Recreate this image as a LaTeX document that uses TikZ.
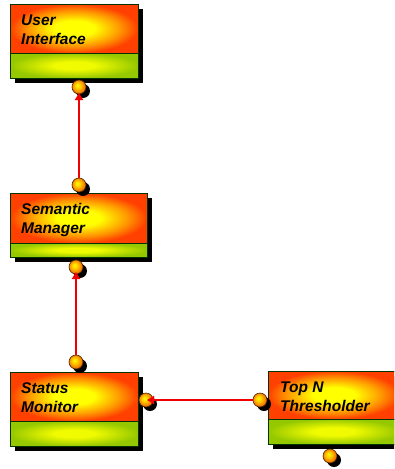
\documentclass[tikz,border=0pt]{standalone}
\usepackage{fontspec}
\setmainfont{Liberation Sans}
\usetikzlibrary{arrows.meta,calc}
\definecolor{hotorange}{RGB}{255,64,0}
\definecolor{midorange}{RGB}{255,150,0}
\definecolor{brightyellow}{RGB}{255,255,0}
\definecolor{limegreen}{RGB}{150,200,0}
\definecolor{limeyellow}{RGB}{240,250,0}
\definecolor{ballorange}{RGB}{240,110,0}
\definecolor{linkred}{RGB}{240,0,0}
\pgfdeclareradialshading{headglow}{\pgfpoint{0bp}{0bp}}{%
  color(0bp)=(brightyellow); color(8bp)=(brightyellow);
  color(18bp)=(midorange); color(25bp)=(hotorange); color(50bp)=(hotorange)}
\pgfdeclareradialshading{footglow}{\pgfpoint{0bp}{0bp}}{%
  color(0bp)=(limeyellow); color(8bp)=(limeyellow);
  color(25bp)=(limegreen); color(50bp)=(limegreen)}
\pgfdeclareradialshading{ballglow}{\pgfpoint{-6bp}{6bp}}{%
  color(0bp)=(brightyellow); color(10bp)=(brightyellow!60!orange);
  color(25bp)=(ballorange); color(50bp)=(ballorange)}
\tikzset{
  x=1pt, y=-1pt,
  head/.style={shading=headglow, draw=black!80!green, line width=0.7pt},
  foot/.style={shading=footglow, draw=black!80!green, line width=0.7pt},
  boxshadow/.style={fill=black},
  label/.style={anchor=base west, align=left, inner sep=0pt,
    font=\fontsize{15.5}{18.5}\selectfont\bfseries\itshape},
  port/.style={circle, minimum size=14pt, inner sep=0pt, shading=ballglow,
    draw=black!70!orange, line width=0.6pt},
  portshadow/.style={circle, minimum size=14pt, inner sep=0pt, fill=black},
  link/.style={draw=linkred, line width=2.4pt,
    -{Triangle[length=7pt,width=8pt]}}
}
% one component box: #1 left, #2 top, #3 right, #4 divider, #5 bottom
\newcommand{\compbox}[5]{%
  \fill[boxshadow] (#1+5,#2+5) rectangle (#3+5,#5+5);
  \path[head] (#1,#2) rectangle (#3,#4);
  \path[foot] (#1,#4) rectangle (#3,#5);
  \draw[black!80!green, line width=0.7pt] (#1,#2) rectangle (#3,#5);
}
\newcommand{\portball}[3]{%
  \node[portshadow] at (#2+4,#3+4) {};
  \node[port] (#1) at (#2,#3) {};
}
\begin{document}
\begin{tikzpicture}
\useasboundingbox (0,0) rectangle (394,469);
\begin{scope}
\clip (0,0) rectangle (394,469);
% component boxes
\compbox{10}{4}{138}{53}{78}
\compbox{10}{193}{147}{243}{257}
\compbox{10}{372}{138}{421}{446}
\compbox{268}{371}{400}{419}{444}
\end{scope}
% box titles (anchored on the baseline of the second line)
\node[label] (ui) at (21,44) {User\\Interface};
\node[label] (sm) at (21,233) {Semantic\\Manager};
\node[label] (st) at (21,412) {Status\\Monitor};
\node[label] (tn) at (280,411) {Top N\\Thresholder};
% connection ports
\portball{uiout}{79}{87}
\portball{smin}{79}{185}
\portball{smout}{76}{267}
\portball{stin}{76}{362}
\portball{stside}{146}{400}
\portball{tnin}{260}{400}
\portball{tnout}{330}{456}
% links
\draw[link] (smin.north) -- ($(uiout.center)+(0,6)$);
\draw[link] (stin.north) -- ($(smout.center)+(0,5)$);
\draw[link] (tnin.west) -- ($(stside.center)+(1,0)$);
\end{tikzpicture}
\end{document}
